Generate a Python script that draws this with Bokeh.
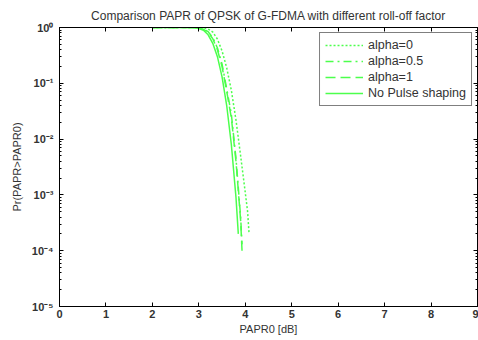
from bokeh.plotting import figure
from bokeh.models import FixedTicker, LinearAxis, LogAxis, Range1d, Legend, LegendItem
from bokeh.embed import file_html
from bokeh.resources import INLINE

# ---- data ----
title_text = "Comparison PAPR of QPSK of G-FDMA with different roll-off factor"
x_ticks = [0, 1, 2, 3, 4, 5, 6, 7, 8, 9]
y_ticks = [1e-5, 1e-4, 1e-3, 1e-2, 1e-1, 1]
y_tick_labels = ["10\u207b\u2075", "10\u207b\u2074", "10\u207b\u00b3", "10\u207b\u00b2", "10\u207b\u00b9", "10\u2070"]

papr0_a0 = [2.0, 2.8, 3.0, 3.1, 3.2, 3.3, 3.4, 3.5, 3.6, 3.7, 3.8, 3.9, 4.0, 4.05, 4.08]
ccdf_a0 = [1.0, 1.0, 0.999, 0.985, 0.94, 0.83, 0.62, 0.38, 0.19, 0.075, 0.022, 0.005, 0.0011, 0.0005, 0.00021]

papr0_a05 = [2.0, 2.6, 2.9, 3.0, 3.1, 3.2, 3.3, 3.4, 3.5, 3.6, 3.7, 3.8, 3.9, 3.93]
ccdf_a05 = [1.0, 1.0, 0.997, 0.985, 0.94, 0.84, 0.66, 0.43, 0.22, 0.08, 0.028, 0.0045, 0.0004, 0.00013]

papr0_a1 = [2.0, 2.6, 2.9, 3.0, 3.1, 3.2, 3.3, 3.4, 3.5, 3.6, 3.7, 3.8, 3.9, 3.93]
ccdf_a1 = [1.0, 1.0, 0.997, 0.98, 0.93, 0.82, 0.63, 0.4, 0.2, 0.072, 0.024, 0.004, 0.00035, 0.0001]

papr0_nps = [2.0, 2.6, 2.8, 2.9, 3.0, 3.1, 3.2, 3.3, 3.4, 3.5, 3.6, 3.7, 3.8, 3.85]
ccdf_nps = [1.0, 1.0, 0.998, 0.99, 0.96, 0.89, 0.74, 0.52, 0.3, 0.13, 0.04, 0.008, 0.0009, 0.0002]

labels = ["alpha=0", "alpha=0.5", "alpha=1", "No Pulse shaping"]

# ---- figure ----
FONT = "Liberation Sans"
TXT = "#333333"
GREEN = "#4cff4c"

p = figure(width=478, height=340, y_axis_type="log",
           x_range=Range1d(0, 9), y_range=Range1d(1e-5, 1),
           output_backend="svg", toolbar_location=None,
           min_border_left=59, min_border_top=27, min_border_right=1, min_border_bottom=34)

p.title.text = title_text
p.title.text_font = FONT
p.title.text_font_size = "12px"
p.title.text_font_style = "normal"
p.title.text_color = TXT
p.title.align = "center"
p.title.standoff = 9

p.xgrid.visible = False
p.ygrid.visible = False
p.outline_line_color = "black"
p.background_fill_color = "white"
p.border_fill_color = "white"

xt = FixedTicker(ticks=x_ticks)
minor_y = [k * 10.0 ** e for e in range(-5, 0) for k in range(2, 10)]
yt = FixedTicker(ticks=y_ticks, minor_ticks=minor_y)

def style_axis(ax):
    ax.axis_line_color = "black"
    ax.major_tick_line_color = "black"
    ax.minor_tick_line_color = "black"
    ax.major_tick_in = 4
    ax.major_tick_out = 0
    ax.minor_tick_in = 2
    ax.minor_tick_out = 0
    ax.major_label_text_font = FONT
    ax.major_label_text_font_size = "11px"
    ax.major_label_text_font_style = "bold"
    ax.major_label_text_color = TXT
    ax.axis_label_text_font = FONT
    ax.axis_label_text_font_size = "11px"
    ax.axis_label_text_font_style = "normal"
    ax.axis_label_text_color = TXT

xa = p.xaxis[0]
xa.ticker = xt
style_axis(xa)
xa.major_label_standoff = 3
xa.axis_label = "PAPR0 [dB]"
xa.axis_label_standoff = 2

ya = p.yaxis[0]
ya.ticker = yt
style_axis(ya)
ya.major_label_overrides = {v: s for v, s in zip(y_ticks, y_tick_labels)}
ya.major_label_standoff = 6
ya.axis_label = "Pr(PAPR>PAPR0)"
ya.axis_label_standoff = 6

top = LinearAxis(ticker=xt)
style_axis(top)
top.major_label_text_font_size = "1px"
top.major_label_text_alpha = 0
top.major_label_standoff = 3
p.add_layout(top, "above")

right = LogAxis(ticker=yt)
style_axis(right)
right.major_label_text_font_size = "1px"
right.major_label_text_alpha = 0
right.major_label_standoff = 0
p.add_layout(right, "right")

r0 = p.line(papr0_a0, ccdf_a0, line_color=GREEN, line_width=1.5, line_dash="2 2")
r1 = p.line(papr0_a05, ccdf_a05, line_color=GREEN, line_width=1.5, line_dash="8 4 2 4")
r2 = p.line(papr0_a1, ccdf_a1, line_color=GREEN, line_width=1.5, line_dash="10 5")
r3 = p.line(papr0_nps, ccdf_nps, line_color=GREEN, line_width=1.5)

legend = Legend(items=[LegendItem(label=l, renderers=[r]) for l, r in zip(labels, [r0, r1, r2, r3])],
                location="top_right")
legend.border_line_color = "black"
legend.border_line_width = 1
legend.background_fill_color = "white"
legend.background_fill_alpha = 1
legend.label_text_font = FONT
legend.label_text_font_size = "12.5px"
legend.label_text_color = TXT
legend.glyph_width = 38
legend.glyph_height = 14
legend.label_height = 14
legend.label_standoff = 5
legend.spacing = 2
legend.padding = 5
legend.margin = 5
p.add_layout(legend)

open("out.html", "w").write(file_html(p, INLINE))
